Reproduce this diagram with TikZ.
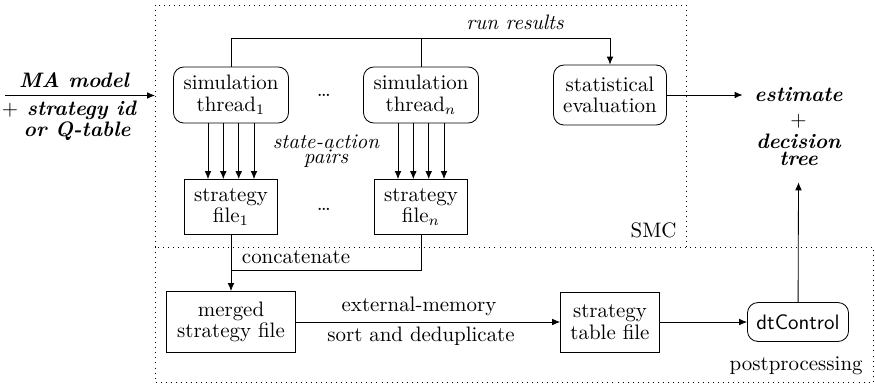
\documentclass[tikz,border=0pt]{standalone}
\usetikzlibrary{calc,arrows.meta}
\newcommand\tightls{\lineskiplimit=-20pt\relax}
\begin{document}
\begin{tikzpicture}[x=0.478pt,y=-0.478pt,
  >={Latex[length=3.8pt,width=3.2pt]},
  every node/.style={inner sep=0pt},
  boxtext/.style={align=center,font={\fontsize{10}{10.3}\selectfont}},
  rbox/.style={boxtext,draw,rounded corners=5pt},
  sbox/.style={boxtext,draw},
  region/.style={dotted},
  bilab/.style={font={\bfseries\itshape},align=center},
  itlab/.style={font=\itshape},
  conn/.style={->}]
\useasboundingbox (0,0) rectangle (875,383);
% regions
\draw[region] (155,247) -- (155,5) -- (686,5) -- (686,247);
\draw[region] (155,247) rectangle (873,382);
\node[anchor=base east] (smc) at (677,237.5) {SMC};
\node[anchor=base east] (pp) at (863,370.5) {postprocessing};
% nodes
\node[rbox,minimum width=55pt,minimum height=26.8pt] (s1) at (231,95) {simulation\\thread$_1$};
\node[rbox,minimum width=55pt,minimum height=26.8pt] (sn) at (421,95) {simulation\\thread$_n$};
\node[anchor=base] (sdots) at (324,96.5) {\ldots};
\node[rbox,minimum width=54pt,minimum height=28.7pt] (st) at (610,95) {statistical\\evaluation};
\node[sbox,minimum width=44.5pt,minimum height=26.3pt] (f1) at (231,207) {strategy\\file$_1$};
\node[sbox,minimum width=44.5pt,minimum height=26.3pt] (fn) at (421,207) {strategy\\file$_n$};
\node[anchor=base] (fdots) at (324,210) {\ldots};
\node[sbox,minimum width=61.7pt,minimum height=29.2pt] (m) at (231,322) {merged\\strategy file};
\node[sbox,minimum width=47.3pt,minimum height=28.7pt] (tb) at (610,322) {strategy\\table file};
\node[rbox,font=\sffamily,minimum width=48.3pt,minimum height=18.6pt] (dt) at (798,322) {dtControl};
% result
\node[bilab,anchor=base,inner xsep=5.5pt] (est) at (798.5,101.7) {estimate};
\node (plus) at (798.5,121) {$+$};
\node[bilab,anchor=base] (dec) at (798.5,148.3) {decision};
\node[bilab,anchor=base,inner ysep=8pt] (tree) at (798.5,165) {tree};
% input
\node[bilab,anchor=base] (ma) at (74,87) {MA model};
\node[bilab,anchor=north,font={\bfseries\itshape\fontsize{10}{9.7}\selectfont\tightls}] (sid) at (69,101) {$+$ strategy id\\\phantom{$+$}or Q-table};
\coordinate (inS) at (5,95.5);
\coordinate (inE) at (155,95.5);
\draw[conn] (inS) -- (inE);
% labels
\node[itlab,anchor=north,align=center,font={\itshape\fontsize{10}{7.2}\selectfont\tightls}] (sa) at (326,134.5) {state-action\\pairs};
\node[itlab,anchor=base] (rr) at (515,29.5) {run results};
% connectors
\coordinate (rrc) at (610,38);
\draw[conn] (s1.north) |- (rrc) -- (st.north);
\draw (sn.north) -- (sn.north |- rrc);
\foreach \d in {-23,-7.7,7.7,23} {
  \draw[conn] ($(s1.south)+(\d,0)$) -- ($(f1.north)+(\d,0)$);
  \draw[conn] ($(sn.south)+(\d,0)$) -- ($(fn.north)+(\d,0)$);
}
\coordinate (cc) at (231,270);
\draw[conn] (f1.south) -- (m.north);
\draw (fn.south) |- (cc);
\node[anchor=base] (cat) at (296,263) {concatenate};
\draw[conn] (m) -- (tb);
\node[anchor=base] (em) at (419,311.5) {external-memory};
\node[anchor=base] (sd) at (421,341.5) {sort and deduplicate};
\draw[conn] (tb) -- (dt);
\draw[conn] (dt) -- (tree.south);
\draw[conn] (st) -- (est.west |- st.east);
\end{tikzpicture}
\end{document}
